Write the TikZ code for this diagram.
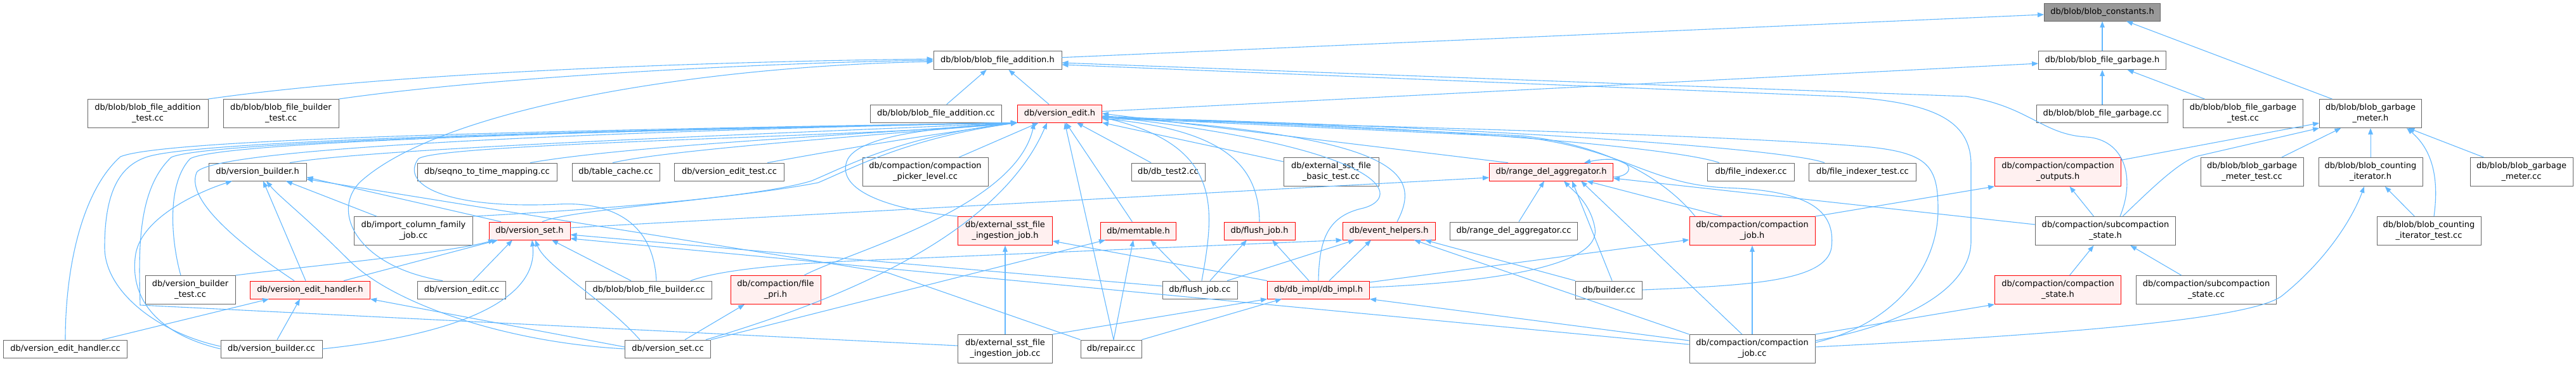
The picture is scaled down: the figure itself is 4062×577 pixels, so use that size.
\documentclass[tikz,border=0pt]{standalone}
\usepackage{fontspec}
\newfontfamily\dvs{DejaVu Sans}
\usetikzlibrary{arrows.meta}
\definecolor{lb}{HTML}{63B8FF}
\definecolor{gsix}{HTML}{666666}
\definecolor{gnine}{HTML}{999999}
\definecolor{rfill}{HTML}{FFF0F0}
\definecolor{rline}{HTML}{FF0000}
\tikzset{
  nd/.style={draw=gsix, fill=white, line width=0.9pt, inner sep=0pt, align=center, text=black,
             font={\dvs\fontsize{13}{17}\selectfont}},
  rd/.style={nd, draw=rline, fill=rfill},
  rt/.style={nd, draw=gsix, fill=gnine},
  lnk/.style={draw=lb, line width=1.1pt, -{Triangle[length=10pt,width=7.5pt]}},
}
\begin{document}
\begin{tikzpicture}[x=1pt,y=-1pt]
\useasboundingbox (0,0) rectangle (4062,577);
% row 0-1
\node[rt, minimum width=183, minimum height=28] (bc) at (3315,19) {db/blob/blob\_constants.h};
\node[nd, minimum width=202, minimum height=29] (bfah) at (1573,95) {db/blob/blob\_file\_addition.h};
\node[nd, minimum width=201, minimum height=29] (bfgh) at (3315,95) {db/blob/blob\_file\_garbage.h};
% row 2
\node[nd, minimum width=190, minimum height=45] (bfat) at (233,179) {db/blob/blob\_file\_addition\\\_test.cc};
\node[nd, minimum width=182, minimum height=45] (bfbt) at (443,179) {db/blob/blob\_file\_builder\\\_test.cc};
\node[nd, minimum width=207, minimum height=28] (bfacc) at (1476,179) {db/blob/blob\_file\_addition.cc};
\node[rd, minimum width=133, minimum height=28] (vedit) at (1671,179) {db/version\_edit.h};
\node[nd, minimum width=207, minimum height=28] (bfgcc) at (3315,179) {db/blob/blob\_file\_garbage.cc};
\node[nd, minimum width=189, minimum height=45] (bfgt) at (3537,179) {db/blob/blob\_file\_garbage\\\_test.cc};
\node[nd, minimum width=161, minimum height=45] (bgmh) at (3738,179) {db/blob/blob\_garbage\\\_meter.h};
% row 3
\node[nd, minimum width=154, minimum height=28] (vbh) at (406,271) {db/version\_builder.h};
\node[nd, minimum width=220, minimum height=28] (seqno) at (768,271) {db/seqno\_to\_time\_mapping.cc};
\node[nd, minimum width=138, minimum height=28] (tc) at (971,271) {db/table\_cache.cc};
\node[nd, minimum width=173, minimum height=28] (vet) at (1150,271) {db/version\_edit\_test.cc};
\node[nd, minimum width=198, minimum height=45] (cpl) at (1459,271) {db/compaction/compaction\\\_picker\_level.cc};
\node[nd, minimum width=116, minimum height=28] (dbt) at (1842,271) {db/db\_test2.cc};
\node[nd, minimum width=150, minimum height=45] (esbt) at (2099,271) {db/external\_sst\_file\\\_basic\_test.cc};
\node[rd, minimum width=195, minimum height=28] (rdah) at (2446,271) {db/range\_del\_aggregator.h};
\node[nd, minimum width=137, minimum height=28] (fi) at (2761,271) {db/file\_indexer.cc};
\node[nd, minimum width=169, minimum height=28] (fit) at (2937,271) {db/file\_indexer\_test.cc};
\node[rd, minimum width=199, minimum height=45] (coh) at (3245,271) {db/compaction/compaction\\\_outputs.h};
\node[nd, minimum width=162, minimum height=45] (bgmt) at (3551,271) {db/blob/blob\_garbage\\\_meter\_test.cc};
\node[nd, minimum width=164, minimum height=45] (bcih) at (3738,271) {db/blob/blob\_counting\\\_iterator.h};
\node[nd, minimum width=162, minimum height=45] (bgmcc) at (3976,271) {db/blob/blob\_garbage\\\_meter.cc};
% row 4
\node[nd, minimum width=187, minimum height=45] (icf) at (652,364) {db/import\_column\_family\\\_job.cc};
\node[rd, minimum width=128, minimum height=28] (vsh) at (835,364) {db/version\_set.h};
\node[rd, minimum width=149, minimum height=45] (esijh) at (1585,364) {db/external\_sst\_file\\\_ingestion\_job.h};
\node[rd, minimum width=119, minimum height=28] (mth) at (1795,364) {db/memtable.h};
\node[rd, minimum width=112, minimum height=28] (fjh) at (1986,364) {db/flush\_job.h};
\node[rd, minimum width=146, minimum height=28] (ehh) at (2190,364) {db/event\_helpers.h};
\node[nd, minimum width=201, minimum height=28] (rdacc) at (2387,364) {db/range\_del\_aggregator.cc};
\node[rd, minimum width=198, minimum height=45] (cjh) at (2763,364) {db/compaction/compaction\\\_job.h};
\node[nd, minimum width=221, minimum height=45] (ssh) at (3320,364) {db/compaction/subcompaction\\\_state.h};
\node[nd, minimum width=164, minimum height=45] (bcit) at (3830,364) {db/blob/blob\_counting\\\_iterator\_test.cc};
% row 5
\node[nd, minimum width=142, minimum height=45] (vbt) at (300,457) {db/version\_builder\\\_test.cc};
\node[rd, minimum width=189, minimum height=28] (vehh) at (489,457) {db/version\_edit\_handler.h};
\node[nd, minimum width=139, minimum height=28] (vecc) at (728,457) {db/version\_edit.cc};
\node[nd, minimum width=199, minimum height=28] (bfbcc) at (1023,457) {db/blob/blob\_file\_builder.cc};
\node[rd, minimum width=142, minimum height=45] (fph) at (1223,457) {db/compaction/file\\\_pri.h};
\node[nd, minimum width=118, minimum height=28] (fjcc) at (1892,457) {db/flush\_job.cc};
\node[rd, minimum width=161, minimum height=28] (dbih) at (2079,457) {db/db\_impl/db\_impl.h};
\node[nd, minimum width=105, minimum height=28] (bcc) at (2537,457) {db/builder.cc};
\node[rd, minimum width=199, minimum height=45] (csh) at (3245,457) {db/compaction/compaction\\\_state.h};
\node[nd, minimum width=221, minimum height=45] (sscc) at (3479,457) {db/compaction/subcompaction\\\_state.cc};
% row 6
\node[nd, minimum width=195, minimum height=28] (vehcc) at (103,550) {db/version\_edit\_handler.cc};
\node[nd, minimum width=160, minimum height=28] (vbcc) at (428,550) {db/version\_builder.cc};
\node[nd, minimum width=135, minimum height=28] (vscc) at (1053,550) {db/version\_set.cc};
\node[nd, minimum width=149, minimum height=45] (esijcc) at (1585,550) {db/external\_sst\_file\\\_ingestion\_job.cc};
\node[nd, minimum width=96, minimum height=28] (rep) at (1752,550) {db/repair.cc};
\node[nd, minimum width=198, minimum height=45] (cjcc) at (2763,550) {db/compaction/compaction\\\_job.cc};

% ---------- edges ----------
\draw[lnk] (bfah) -- (bc);
\draw[lnk] (bfgh) -- (bc);
\draw[lnk] (bgmh) -- (bc);
\draw[lnk] (bfat.north east) .. controls (650,110) and (1200,96) .. ([yshift=2pt]bfah.west);
\draw[lnk] (bfbt.north east) .. controls (800,118) and (1250,98) .. (bfah.west);
\draw[lnk] (bfacc) -- (bfah);
\draw[lnk] (vedit) -- (bfah);
\draw[lnk] ([xshift=-30pt]vecc.north) .. controls (560,420) and (520,330) .. (570,285) .. controls (700,170) and (1100,105) .. ([yshift=-2pt]bfah.west);
\draw[lnk] ([xshift=23pt]ssh.north) .. controls (3368,280) and (3350,220) .. (3290,216) .. controls (3220,212) and (3200,168) .. (3100,152) -- ([yshift=-4pt]bfah.east);
\draw[lnk] ([yshift=13pt]cjcc.east) .. controls (2990,515) and (3108,460) .. (3108,380) -- (3108,260) .. controls (3108,190) and (3050,160) .. (2900,152) -- ([yshift=-7pt]bfah.east);
\draw[lnk] (vedit) -- (bfgh);
\draw[lnk] (bfgcc) -- (bfgh);
\draw[lnk] (bfgt) -- (bfgh);
\draw[lnk] (bgmt) -- (bgmh);
\draw[lnk] (bcih) -- (bgmh);
\draw[lnk] (bgmcc) -- (bgmh);
\draw[lnk] (coh) -- (bgmh);
\draw[lnk] ([xshift=27pt]ssh.north) .. controls (3390,300) and (3440,250) .. (3470,245) -- (bgmh.south west);
\draw[lnk] ([xshift=8pt]bcit.north) .. controls (3845,290) and (3840,240) .. ([xshift=57pt]bgmh.south);
\draw[lnk] (bcit) -- (bcih);
\draw[lnk] ([yshift=3pt]cjcc.east) .. controls (3300,525) and (3560,500) .. (3600,465) .. controls (3680,400) and (3715,330) .. ([xshift=-10pt]bcih.south);
\draw[lnk] (csh) -- (ssh);
\draw[lnk] (sscc) -- (ssh);
\draw[lnk] (ssh) -- (coh);
\draw[lnk] (cjh.north east) -- (coh.south west);
\draw[lnk] (cjcc.north east) -- (csh.south west);
\draw[lnk] (cjcc) -- (cjh);
\draw[lnk] ([yshift=10pt]ssh.west) -- ([yshift=-10pt]rdah.east);
\draw[lnk] ([xshift=-47pt]cjh.north) -- ([xshift=56pt]rdah.south);
\draw[lnk] ([xshift=-16pt]cjcc.north) -- ([xshift=47pt]rdah.south);
\draw[lnk] ([xshift=5pt]bcc.north) -- ([xshift=33pt]rdah.south);
\draw[lnk] ([yshift=4pt]dbih.east) .. controls (2350,445) and (2525,420) .. (2515,360) .. controls (2508,320) and (2480,300) .. ([xshift=20pt]rdah.south);
\draw[lnk] ([xshift=8pt]rdacc.north) -- ([xshift=-11pt]rdah.south);
\draw[lnk] ([yshift=-8pt]rdah.east) .. controls (2585,278) and (2575,240) .. ([xshift=52pt]rdah.north);
\draw[lnk] ([xshift=30pt]rdah.north west) -- (vedit.east);
\draw[lnk] ([yshift=5pt]vsh.east) -- ([yshift=-9pt]rdah.west);
\draw[lnk] ([yshift=12pt]dbih.east) -- ([yshift=-14pt]cjh.west);
\draw[lnk] ([xshift=-90pt]cjh.north) .. controls (2640,300) and (2560,232) .. (2400,214) -- ([yshift=-4pt]vedit.east);
\draw[lnk] (bcc.east) .. controls (2750,450) and (2880,445) .. (2888,390) .. controls (2895,330) and (2850,300) .. (2720,296) .. controls (2600,290) and (2560,235) .. (2400,216) -- ([yshift=-6pt]vedit.east);
\draw[lnk] ([yshift=10pt]cjcc.east) .. controls (2990,510) and (3056,420) .. (3056,330) .. controls (3056,262) and (3040,242) .. (2950,232) .. controls (2700,210) and (2000,195) .. ([yshift=-8pt]vedit.east);
\draw[lnk] ([xshift=-50pt]fi.north) .. controls (2650,235) and (2300,200) .. ([yshift=-6pt]vedit.east);
\draw[lnk] ([xshift=-60pt]fit.north) .. controls (2820,235) and (2350,200) .. ([yshift=-6pt]vedit.east);
\draw[lnk] (esbt) -- (vedit);
\draw[lnk] (dbt) -- (vedit);
\draw[lnk] (mth) -- (vedit);
\draw[lnk] (fjh.north) .. controls (1985,260) and (1930,205) .. ([yshift=-8pt]vedit.east);
\draw[lnk] ([xshift=13pt]ehh.north) .. controls (2245,270) and (2200,215) .. ([yshift=-5pt]vedit.east);
\draw[lnk] (dbih.north) .. controls (2080,375) and (2095,340) .. (2150,328) .. controls (2210,312) and (2200,235) .. ([yshift=-4pt]vedit.east);
\draw[lnk] ([xshift=3pt]fjcc.north) .. controls (1915,330) and (1930,230) .. ([yshift=-6pt]vedit.east);
\draw[lnk] ([xshift=4pt]rep.north) -- ([xshift=8pt]vedit.south);
\draw[lnk] (esijh.north west) .. controls (1400,330) and (1320,300) .. (1335,255) .. controls (1350,210) and (1500,200) .. (vedit.south west);
\draw[lnk] (cpl) -- (vedit);
\draw[lnk] ([xshift=60pt]vet.north) .. controls (1400,222) and (1500,208) .. (vedit.south west);
\draw[lnk] ([xshift=-5pt]tc.north) .. controls (1060,235) and (1400,212) .. (vedit.south west);
\draw[lnk] ([xshift=68pt]seqno.north) .. controls (1000,228) and (1400,210) .. (vedit.south west);
\draw[lnk] ([xshift=51pt]vbh.north) .. controls (600,232) and (1300,208) .. (vedit.south west);
\draw[lnk] (icf.north east) .. controls (950,330) and (1200,310) .. (1280,285) .. controls (1340,260) and (1420,215) .. (vedit.south west);
\draw[lnk] ([xshift=20pt]vsh.north) .. controls (900,330) and (1150,315) .. (1290,288) .. controls (1345,265) and (1430,218) .. (vedit.south west);
% far-left curves
\draw[lnk] (vehcc.north) .. controls (103,420) and (130,300) .. (190,247) .. controls (260,218) and (900,205) .. (vedit.south west);
\draw[lnk] ([yshift=4pt]vbcc.west) .. controls (250,525) and (165,460) .. (165,390) .. controls (165,300) and (190,262) .. (230,248) .. controls (300,222) and (900,206) .. (vedit.south west);
\draw[lnk] (vbcc.west) .. controls (230,522) and (205,455) .. (214,400) .. controls (225,340) and (320,300) .. ([xshift=-40pt]vbh.south);
\draw[lnk] ([yshift=5pt]esijcc.west) -- (221,481) .. controls (219,400) and (215,300) .. (270,248) .. controls (320,224) and (900,207) .. (vedit.south west);
\draw[lnk] ([xshift=-15pt]vbt.north) .. controls (270,380) and (262,290) .. (300,250) .. controls (350,224) and (900,207) .. (vedit.south west);
\draw[lnk] ([xshift=-25pt]vehh.north) .. controls (400,400) and (290,320) .. (310,272) .. controls (330,235) and (900,208) .. (vedit.south west);
% version_set.h / version_builder.h group
\draw[lnk] (vbt.north east) .. controls (480,420) and (700,400) .. ([xshift=-55pt]vsh.south);
\draw[lnk] ([xshift=53pt]vehh.north) -- ([xshift=-50pt]vsh.south);
\draw[lnk] ([xshift=-7pt]vehh.north) -- ([xshift=9pt]vbh.south);
\draw[lnk] ([xshift=18pt]vecc.north) -- ([xshift=-27pt]vsh.south);
\draw[lnk] (vbcc.east) .. controls (700,530) and (850,480) .. ([xshift=4pt]vsh.south);
\draw[lnk] ([xshift=-44pt]vscc.north) .. controls (950,470) and (860,420) .. ([xshift=9pt]vsh.south);
\draw[lnk] ([xshift=-28pt]bfbcc.north) -- ([xshift=35pt]vsh.south);
\draw[lnk] ([xshift=12pt]bfbcc.north) .. controls (1030,340) and (950,318) .. (880,322) .. controls (700,330) and (630,290) .. (660,250) .. controls (700,225) and (1400,215) .. (vedit.south west);
\draw[lnk] ([yshift=6pt]fjcc.west) -- ([yshift=-6pt]vsh.east);
\draw[lnk] ([yshift=7pt]cjcc.west) -- ([yshift=-12pt]vsh.east);
\draw[lnk] (rep.north west) -- (1400,430) -- ([yshift=3pt]vbh.south east);
\draw[lnk] ([xshift=-58pt]icf.north) -- ([xshift=45pt]vbh.south);
\draw[lnk] ([xshift=-45pt]vsh.north) -- ([yshift=6pt]vbh.south east);
\draw[lnk] (vscc.west) .. controls (800,540) and (620,480) .. (550,410) .. controls (480,340) and (440,310) .. ([xshift=14pt]vbh.south);
\draw[lnk] ([yshift=3pt]vscc.west) -- (vehh.south east);
\draw[lnk] ([xshift=58pt]vehcc.north) -- ([xshift=-65pt]vehh.south);
\draw[lnk] ([xshift=9pt]vbcc.north) -- ([xshift=-16pt]vehh.south);
\draw[lnk] ([xshift=27pt]vscc.north) -- ([xshift=-49pt]fph.south);
\draw[lnk] (vscc.north east) -- ([xshift=-52pt]mth.south);
\draw[lnk] ([xshift=60pt]vscc.north) .. controls (1300,480) and (1570,380) .. ([xshift=-20pt]vedit.south);
\draw[lnk] ([xshift=45pt]fph.north) .. controls (1330,400) and (1600,330) .. ([xshift=-40pt]vedit.south);
% db_impl.h and others
\draw[lnk] (esijcc.north east) -- (dbih.south west);
\draw[lnk] (rep.north east) -- ([xshift=-58pt]dbih.south);
\draw[lnk] ([yshift=13pt]cjcc.west) -- (dbih.south east);
\draw[lnk] (esijcc) -- (esijh);
\draw[lnk] (dbih.north west) -- ([yshift=-16pt]esijh.east);
\draw[lnk] ([xshift=4pt]rep.north) -- ([xshift=-8pt]mth.south);
\draw[lnk] ([xshift=-15pt]fjcc.north) -- ([xshift=19pt]mth.south);
\draw[lnk] ([xshift=16pt]fjcc.north) -- ([xshift=-20pt]fjh.south);
\draw[lnk] ([xshift=-15pt]dbih.north) -- ([xshift=20pt]fjh.south);
\draw[lnk] ([xshift=66pt]bfbcc.north) .. controls (1150,420) and (1300,413) .. (1400,409) -- (ehh.south west);
\draw[lnk] ([xshift=43pt]fjcc.north) -- ([xshift=-54pt]ehh.south);
\draw[lnk] ([xshift=17pt]dbih.north) -- ([xshift=-28pt]ehh.south);
\draw[lnk] (cjcc.north west) -- ([xshift=40pt]ehh.south);
\draw[lnk] (bcc.north west) -- ([xshift=57pt]ehh.south);
\end{tikzpicture}
\end{document}
